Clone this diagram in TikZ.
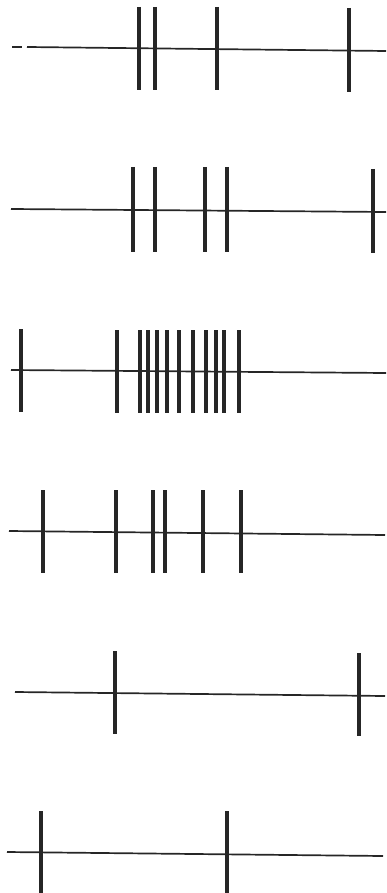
\documentclass[tikz,border=0pt]{standalone}
\begin{document}
\begin{tikzpicture}[x=1pt,y=-1pt,
  baseline/.style={line width=1.7pt,draw=black!85},
  spike/.style={line width=4.6pt,draw=black!85}]
\useasboundingbox (0,0) rectangle (386,893);
% row 1
\draw[baseline] (12,47) -- (22,47);
\draw[baseline] (27,47) -- (386,51);
\foreach \x in {139,155,217} \draw[spike] (\x,7) -- (\x,90);
\draw[spike] (349,8) -- (349,92);
% row 2
\draw[baseline] (11,209) -- (386,212);
\foreach \x in {133,155,205,227} \draw[spike] (\x,167) -- (\x,252);
\draw[spike] (373,169) -- (373,253);
% row 3
\draw[baseline] (11,370) -- (386,373);
\draw[spike] (21,329) -- (21,412);
\foreach \x in {117,140,148,157,167,179,193,206,216,224,239} \draw[spike] (\x,330) -- (\x,413);
% row 4
\draw[baseline] (9,531) -- (385,535);
\foreach \x in {43,116,153,165,203,241} \draw[spike] (\x,490) -- (\x,573);
% row 5
\draw[baseline] (15,692) -- (385,696);
\draw[spike] (115,651) -- (115,734);
\draw[spike] (359,653) -- (359,736);
% row 6
\draw[baseline] (7,852) -- (383,856);
\draw[spike] (41,811) -- (41,893);
\draw[spike] (227,811) -- (227,893);
\end{tikzpicture}
\end{document}
